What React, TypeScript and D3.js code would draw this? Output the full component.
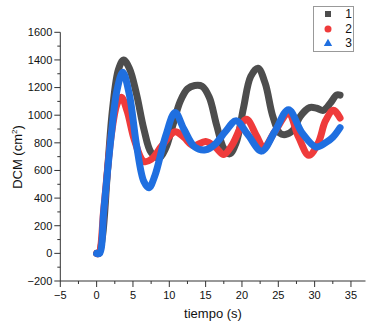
import React from "react";
import * as d3 from "d3";

const t1 = [0, 0.3, 0.8, 1.5, 2.2, 3, 3.7, 4.5, 5.5, 6.5, 7.5, 8.6, 9.5, 10.5, 11.5, 12.5, 13.5, 14.5, 15.5, 16.5, 17.5, 18.3, 19.2, 20.2, 21.2, 22.2, 23.2, 24.2, 25.2, 26, 27, 28, 29.3, 30.3, 31.2, 32.2, 33, 33.5];
const v1 = [0, 0, 120, 600, 1050, 1330, 1400, 1340, 1150, 900, 730, 690, 760, 930, 1100, 1190, 1215, 1210, 1130, 930, 760, 720, 800, 1050, 1280, 1340, 1230, 1000, 870, 860, 890, 990, 1055, 1050, 1035, 1090, 1145, 1145];

const t2 = [0, 0.3, 1, 2, 2.8, 3.4, 4.2, 5.2, 6.5, 7.5, 9, 10.8, 12, 13.3, 15, 16.3, 17.5, 18.7, 20.6, 22, 23, 24.5, 26.4, 27.8, 29.2, 30.5, 31.5, 32.6, 33.5];
const v2 = [0, 0, 330, 850, 1080, 1130, 1030, 820, 665, 680, 780, 880, 840, 780, 810, 770, 715, 790, 970, 850, 765, 880, 1010, 840, 710, 800, 960, 1035, 980];

const t3 = [0, 0.4, 1, 2, 2.8, 3.6, 4.5, 5.5, 6.5, 7.2, 8, 9.5, 10.8, 12, 13.5, 15, 16.3, 17.7, 19.2, 20.8, 22.7, 24.5, 26.4, 28.3, 30.2, 31.5, 32.5, 33.5];
const v3 = [0, 0, 320, 850, 1180, 1310, 1150, 780, 520, 475, 560, 850, 1020, 900, 770, 750, 790, 880, 960, 860, 740, 880, 1040, 870, 770, 800, 840, 910];

const seriesNames = ["1", "2", "3"];
const seriesColors = ["#4d4d4d", "#ef3b3b", "#1f6fe0"];
const xTicks = [-5, 0, 5, 10, 15, 20, 25, 30, 35];
const yTicks = [-200, 0, 200, 400, 600, 800, 1000, 1200, 1400, 1600];

export default function App() {
  const W = 367, H = 325;
  const x = d3.scaleLinear().domain([-5, 37]).range([60.3, 365.5]);
  const y = d3.scaleLinear().domain([-200, 1600]).range([281, 32.3]);
  const line = d3
    .line<[number, number]>()
    .x((d) => x(d[0]))
    .y((d) => y(d[1]))
    .curve(d3.curveCatmullRom.alpha(0.5));
  const series = [
    t1.map((t, i) => [t, v1[i]] as [number, number]),
    t2.map((t, i) => [t, v2[i]] as [number, number]),
    t3.map((t, i) => [t, v3[i]] as [number, number]),
  ];
  const fmt = (v: number) => (v < 0 ? "\u2212" + Math.abs(v) : String(v));
  const xMinor = d3.range(-2.5, 37, 5);
  const yMinor = d3.range(-100, 1600, 200);
  const axisColor = "#333";
  const font = "Liberation Sans, Arial, sans-serif";
  return (
    <svg width={W} height={H} style={{ position: "absolute", left: 0, top: 0 }} fontFamily={font}>
      <rect width={W} height={H} fill="#fff" />
      {series.map((s, i) => (
        <path
          key={i}
          d={line(s) || ""}
          fill="none"
          stroke={seriesColors[i]}
          strokeWidth={7}
          strokeLinejoin="round"
          strokeLinecap="round"
        />
      ))}
      {/* axes */}
      <line x1={x(-5)} x2={x(-5)} y1={y(-200)} y2={y(1600)} stroke={axisColor} strokeWidth={1} />
      <line x1={x(-5)} x2={x(37)} y1={y(-200)} y2={y(-200)} stroke={axisColor} strokeWidth={1} />
      {yTicks.map((v) => (
        <g key={"y" + v}>
          <line x1={x(-5) - 6} x2={x(-5)} y1={y(v)} y2={y(v)} stroke={axisColor} />
          <text x={x(-5) - 8} y={y(v)} dy="0.35em" textAnchor="end" fontSize={11} fill="#111">
            {fmt(v)}
          </text>
        </g>
      ))}
      {yMinor.map((v) => (
        <line key={"ym" + v} x1={x(-5) - 3} x2={x(-5)} y1={y(v)} y2={y(v)} stroke={axisColor} />
      ))}
      {xTicks.map((v) => (
        <g key={"x" + v}>
          <line x1={x(v)} x2={x(v)} y1={y(-200)} y2={y(-200) + 6} stroke={axisColor} />
          <text x={x(v)} y={y(-200) + 18} textAnchor="middle" fontSize={11} fill="#111">
            {fmt(v)}
          </text>
        </g>
      ))}
      {xMinor.map((v) => (
        <line key={"xm" + v} x1={x(v)} x2={x(v)} y1={y(-200)} y2={y(-200) + 3} stroke={axisColor} />
      ))}
      <text x={213} y={318} textAnchor="middle" fontSize={13} fill="#111">
        tiempo (s)
      </text>
      <text transform="translate(22,157) rotate(-90)" textAnchor="middle" fontSize={13} fill="#111">
        DCM (cm<tspan dy={-5} fontSize={8}>2</tspan>
        <tspan dy={5}>)</tspan>
      </text>
      {/* legend */}
      <rect x={313.5} y={6.5} width={40} height={45} fill="#fff" stroke="#999" strokeWidth={1} />
      <rect x={325} y={11} width={6} height={6} fill={seriesColors[0]} />
      <circle cx={328} cy={29} r={3.5} fill={seriesColors[1]} />
      <path d={d3.symbol(d3.symbolTriangle, 30)() || ""} transform="translate(328,43.5)" fill={seriesColors[2]} />
      {seriesNames.map((n, i) => (
        <text key={n} x={352} y={14 + i * 14.5} dy="0.35em" textAnchor="end" fontSize={12} fill="#111">
          {n}
        </text>
      ))}
    </svg>
  );
}
